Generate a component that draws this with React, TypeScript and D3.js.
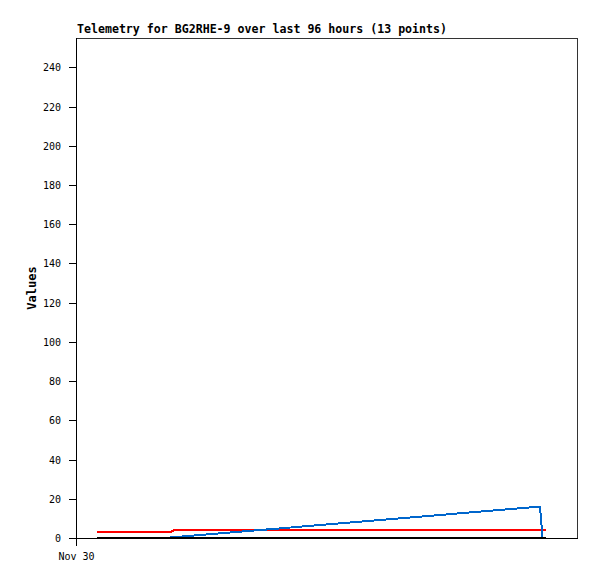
import { useEffect, useRef } from 'react';
import * as d3 from 'd3';

// hours after Nov 30 00:00 for each of the 13 telemetry points
const hours = [3.8, 10.2, 16.7, 18.0, 18.6, 27.5, 39.0, 50.5, 62.0, 73.5, 88.9, 89.4, 90.1];
const redValues = [3, 3, 3, 3, 4, 4, 4, 4, 4, 4, 4, 4, 4];
const blueValues = [0, 0, 0, 0.3, 0.4, 2.4, 4.9, 7.5, 10.0, 12.6, 16, 0, 0];
const blackValues = [0, 0, 0, 0, 0, 0, 0, 0, 0, 0, 0, 0, 0];
const yTicks = [0, 20, 40, 60, 80, 100, 120, 140, 160, 180, 200, 220, 240];
const xTickLabels = ['Nov 30'];
const title = 'Telemetry for BG2RHE-9 over last 96 hours (13 points)';

const WIDTH = 597;
const HEIGHT = 579;

export default function App() {
  const svgRef = useRef<SVGSVGElement>(null);

  useEffect(() => {
    if (!svgRef.current) return;
    const svg = d3.select(svgRef.current);
    svg.selectAll('*').remove();

    const left = 77, right = 577, top = 38, bottom = 538;
    const start = new Date(2023, 10, 30, 0, 0, 0);
    const toDate = (h: number) => new Date(start.getTime() + h * 3600 * 1000);

    const x = d3.scaleTime().domain([start, toDate(96)]).range([left, right]);
    const y = d3.scaleLinear().domain([0, 255]).range([bottom, top]);

    const mono = "'DejaVu Sans Mono', monospace";

    // frame
    svg.append('line').attr('x1', left).attr('x2', right + 0.5).attr('y1', top + 0.5).attr('y2', top + 0.5)
      .attr('stroke', '#333');
    svg.append('line').attr('x1', right + 0.5).attr('x2', right + 0.5).attr('y1', top).attr('y2', bottom + 1)
      .attr('stroke', '#333');

    // y axis ticks + labels
    const yg = svg.append('g');
    yTicks.forEach(t => {
      const yy = Math.round(y(t)) + 0.5;
      yg.append('line').attr('x1', left - 8).attr('x2', left).attr('y1', yy).attr('y2', yy).attr('stroke', '#000');
      yg.append('text').attr('x', left - 16).attr('y', yy + 3.5).attr('text-anchor', 'end')
        .attr('font-family', mono).attr('font-size', 10).attr('fill', '#000').text(String(t));
    });

    // x axis tick + label
    xTickLabels.forEach((lab, i) => {
      const xx = Math.round(x(toDate(i * 24))) - 0.5;
      svg.append('line').attr('x1', xx).attr('x2', xx).attr('y1', bottom).attr('y2', bottom + 8).attr('stroke', '#000');
      svg.append('text').attr('x', xx).attr('y', bottom + 22).attr('text-anchor', 'middle')
        .attr('font-family', mono).attr('font-size', 10).attr('fill', '#000').text(lab);
    });

    // series
    const line = d3.line<number>()
      .x((_, i) => x(toDate(hours[i])))
      .y(d => y(d));

    const series: [number[], string][] = [
      [redValues, '#ff0000'],
      [blueValues, '#0066cc'],
      [blackValues, '#000000'],
    ];
    series.forEach(([vals, color]) => {
      svg.append('path').attr('d', line(vals) as string)
        .attr('fill', 'none').attr('stroke', color).attr('stroke-width', 2)
        .attr('shape-rendering', 'crispEdges');
    });

    // axes lines
    svg.append('line').attr('x1', left - 0.5).attr('x2', left - 0.5).attr('y1', top).attr('y2', bottom + 8)
      .attr('stroke', '#000');
    svg.append('line').attr('x1', left - 0.5).attr('x2', right + 1).attr('y1', bottom + 0.5).attr('y2', bottom + 0.5)
      .attr('stroke', '#000');

    // title
    svg.append('text').attr('x', left).attr('y', 33)
      .attr('font-family', mono).attr('font-size', 12).attr('font-weight', 'bold')
      .attr('textLength', 370).attr('lengthAdjust', 'spacingAndGlyphs')
      .attr('fill', '#000').text(title);

    // y label
    svg.append('text').attr('transform', `translate(36, ${(top + bottom) / 2}) rotate(-90)`)
      .attr('text-anchor', 'middle').attr('font-family', mono).attr('font-size', 12).attr('font-weight', 'bold')
      .attr('fill', '#000').text('Values');
  }, []);

  return (
    <svg ref={svgRef} width={WIDTH} height={HEIGHT}
      style={{ position: 'absolute', left: 0, top: 0, background: '#fff' }} />
  );
}
